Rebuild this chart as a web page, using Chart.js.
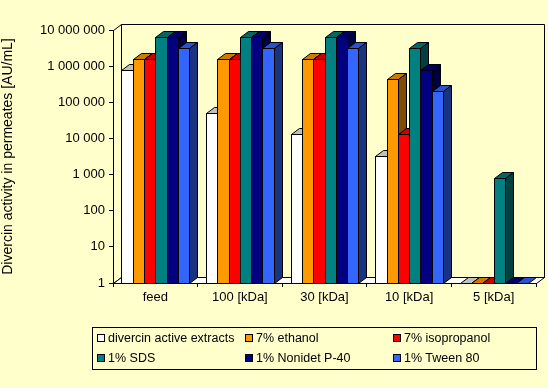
<!DOCTYPE html>
<html>
<head>
<meta charset="utf-8">
<script src="https://cdn.jsdelivr.net/npm/chart.js@4.4.1/dist/chart.umd.min.js"></script>
<style>
  html, body { margin: 0; padding: 0; background: #ffffcc; }
  #wrap { position: relative; width: 548px; height: 388px; background: #ffffcc; overflow: hidden; }
  #legend { position: absolute; left: 92px; top: 327px; width: 443px; height: 41px; border: 1px solid #000;
            font: 12.5px 'Liberation Sans', Arial, sans-serif; color: #000; }
  .item { position: absolute; white-space: nowrap; line-height: 14px; }
  .box { display: inline-block; width: 6px; height: 6px; border: 1px solid #000; margin-right: 3px; vertical-align: 0px; }
</style>
</head>
<body>
<div id="wrap">
  <canvas id="chart" width="548" height="388"></canvas>
  <div id="legend"></div>
</div>
<script>
// data
const categories = ['feed', '100 [kDa]', '30 [kDa]', '10 [kDa]', '5 [kDa]'];
const divercin = [800000, 51000, 13400, 3360, 1];
const ethanol = [1600000, 1600000, 1600000, 430000, 1];
const isopropanol = [1600000, 1600000, 1600000, 13400, 1];
const sds = [6500000, 6500000, 6500000, 3200000, 790];
const nonidet = [6500000, 6500000, 6500000, 795000, 1];
const tween = [3200000, 3200000, 3200000, 207000, 1];
const seriesNames = ['divercin active extracts', '7% ethanol', '7% isopropanol', '1% SDS', '1% Nonidet P-40', '1% Tween 80'];
const yTicks = [1, 10, 100, 1000, 10000, 100000, 1000000, 10000000];
const yTickLabels = ['1', '10', '100', '1 000', '10 000', '100 000', '1 000 000', '10 000 000'];

const colors = ['#ffffff', '#ff9900', '#ff0000', '#008080', '#000080', '#3366ff'];
const topColors = ['#c0c0c0', '#cc7a00', '#cc0000', '#006666', '#000066', '#2952cc'];
const sideColors = ['#808080', '#804c00', '#800000', '#004040', '#000040', '#1a3380'];
const depth = { dx: 8, dy: 6 };

Chart.defaults.font.family = "'Liberation Sans', Arial, sans-serif";
Chart.defaults.font.size = 13;
Chart.defaults.color = '#000';

function poly(ctx, pts, fill) {
    ctx.beginPath();
    pts.forEach((p, k) => k ? ctx.lineTo(p[0] + .5, p[1] + .5) : ctx.moveTo(p[0] + .5, p[1] + .5));
    ctx.closePath();
    ctx.fillStyle = fill;
    ctx.fill();
    ctx.stroke();
}

// fake 3D: walls, floor and the boxes drawn from the bar elements
const box3d = {
    id: 'box3d',
    beforeDatasetsDraw(chart) {
        const { ctx, chartArea: a } = chart;
        const { dx, dy } = depth;
        const l = Math.round(a.left), r = Math.round(a.right), t = Math.round(a.top), b = Math.round(a.bottom);
        ctx.save();
        ctx.lineWidth = 1;
        ctx.strokeStyle = '#000';
        poly(ctx, [[l + dx, t - dy], [r + dx, t - dy], [r + dx, b - dy], [l + dx, b - dy]], '#ffffcc');
        poly(ctx, [[l, t], [l + dx, t - dy], [l + dx, b - dy], [l, b]], '#ffffcc');
        poly(ctx, [[l, b], [r, b], [r + dx, b - dy], [l + dx, b - dy]], '#ffffff');
        ctx.restore();
    },
    beforeDatasetDraw() {
        return false;
    },
    afterDatasetsDraw(chart) {
        const ctx = chart.ctx;
        const { dx, dy } = depth;
        ctx.save();
        ctx.lineWidth = 1;
        ctx.strokeStyle = '#000';
        categories.forEach((c, j) => {
            chart.data.datasets.forEach((ds, i) => {
                const bar = chart.getDatasetMeta(i).data[j];
                const x0 = Math.round(bar.x - bar.width / 2), x1 = Math.round(bar.x + bar.width / 2);
                const yt = Math.round(bar.y), yb = Math.round(bar.base);
                if (yb > yt) poly(ctx, [[x0, yt], [x1, yt], [x1, yb], [x0, yb]], colors[i]);
                poly(ctx, [[x0, yt], [x1, yt], [x1 + dx, yt - dy], [x0 + dx, yt - dy]], topColors[i]);
                if (yb > yt) poly(ctx, [[x1, yt], [x1 + dx, yt - dy], [x1 + dx, yb - dy], [x1, yb]], sideColors[i]);
            });
        });
        ctx.restore();
    }
};

const values = [divercin, ethanol, isopropanol, sds, nonidet, tween];

new Chart(document.getElementById('chart'), {
    type: 'bar',
    data: {
        labels: categories,
        datasets: values.map((v, i) => ({
            label: seriesNames[i],
            data: v,
            backgroundColor: colors[i],
            borderColor: '#000',
            borderWidth: 1
        }))
    },
    options: {
        responsive: false,
        animation: false,
        categoryPercentage: 0.8,
        barPercentage: 1,
        layout: { padding: { left: 0, right: 12, top: 30, bottom: 0 } },
        plugins: { legend: { display: false }, tooltip: { enabled: false } },
        scales: {
            x: {
                afterFit: s => { s.height = 105; },
                grid: { drawOnChartArea: false, color: '#000', tickLength: 4, offset: true },
                border: { display: true, color: '#000' },
                ticks: { padding: 3, maxRotation: 0 }
            },
            y: {
                type: 'logarithmic',
                min: 1,
                max: 10000000,
                afterFit: s => { s.width = 113; },
                afterBuildTicks: s => { s.ticks = yTicks.map(v => ({ value: v })); },
                grid: { drawOnChartArea: false, color: '#000', tickLength: 4 },
                border: { display: true, color: '#000' },
                ticks: { autoSkip: false, padding: 4, callback: (v, i) => yTickLabels[i] },
                title: { display: true, text: 'Divercin activity in permeates [AU/mL]', font: { size: 14 }, padding: { top: 0, bottom: 0 } }
            }
        }
    },
    plugins: [box3d]
});

// legend laid out in a 3 x 2 grid like the original
const legend = document.getElementById('legend');
const colX = [4, 152, 300];
const rowY = [3, 23];
seriesNames.forEach((name, i) => {
    const item = document.createElement('div');
    item.className = 'item';
    item.style.left = colX[i % 3] + 'px';
    item.style.top = rowY[Math.floor(i / 3)] + 'px';
    item.innerHTML = '<span class="box" style="background:' + colors[i] + '"></span>' + name;
    legend.appendChild(item);
});
</script>
</body>
</html>
